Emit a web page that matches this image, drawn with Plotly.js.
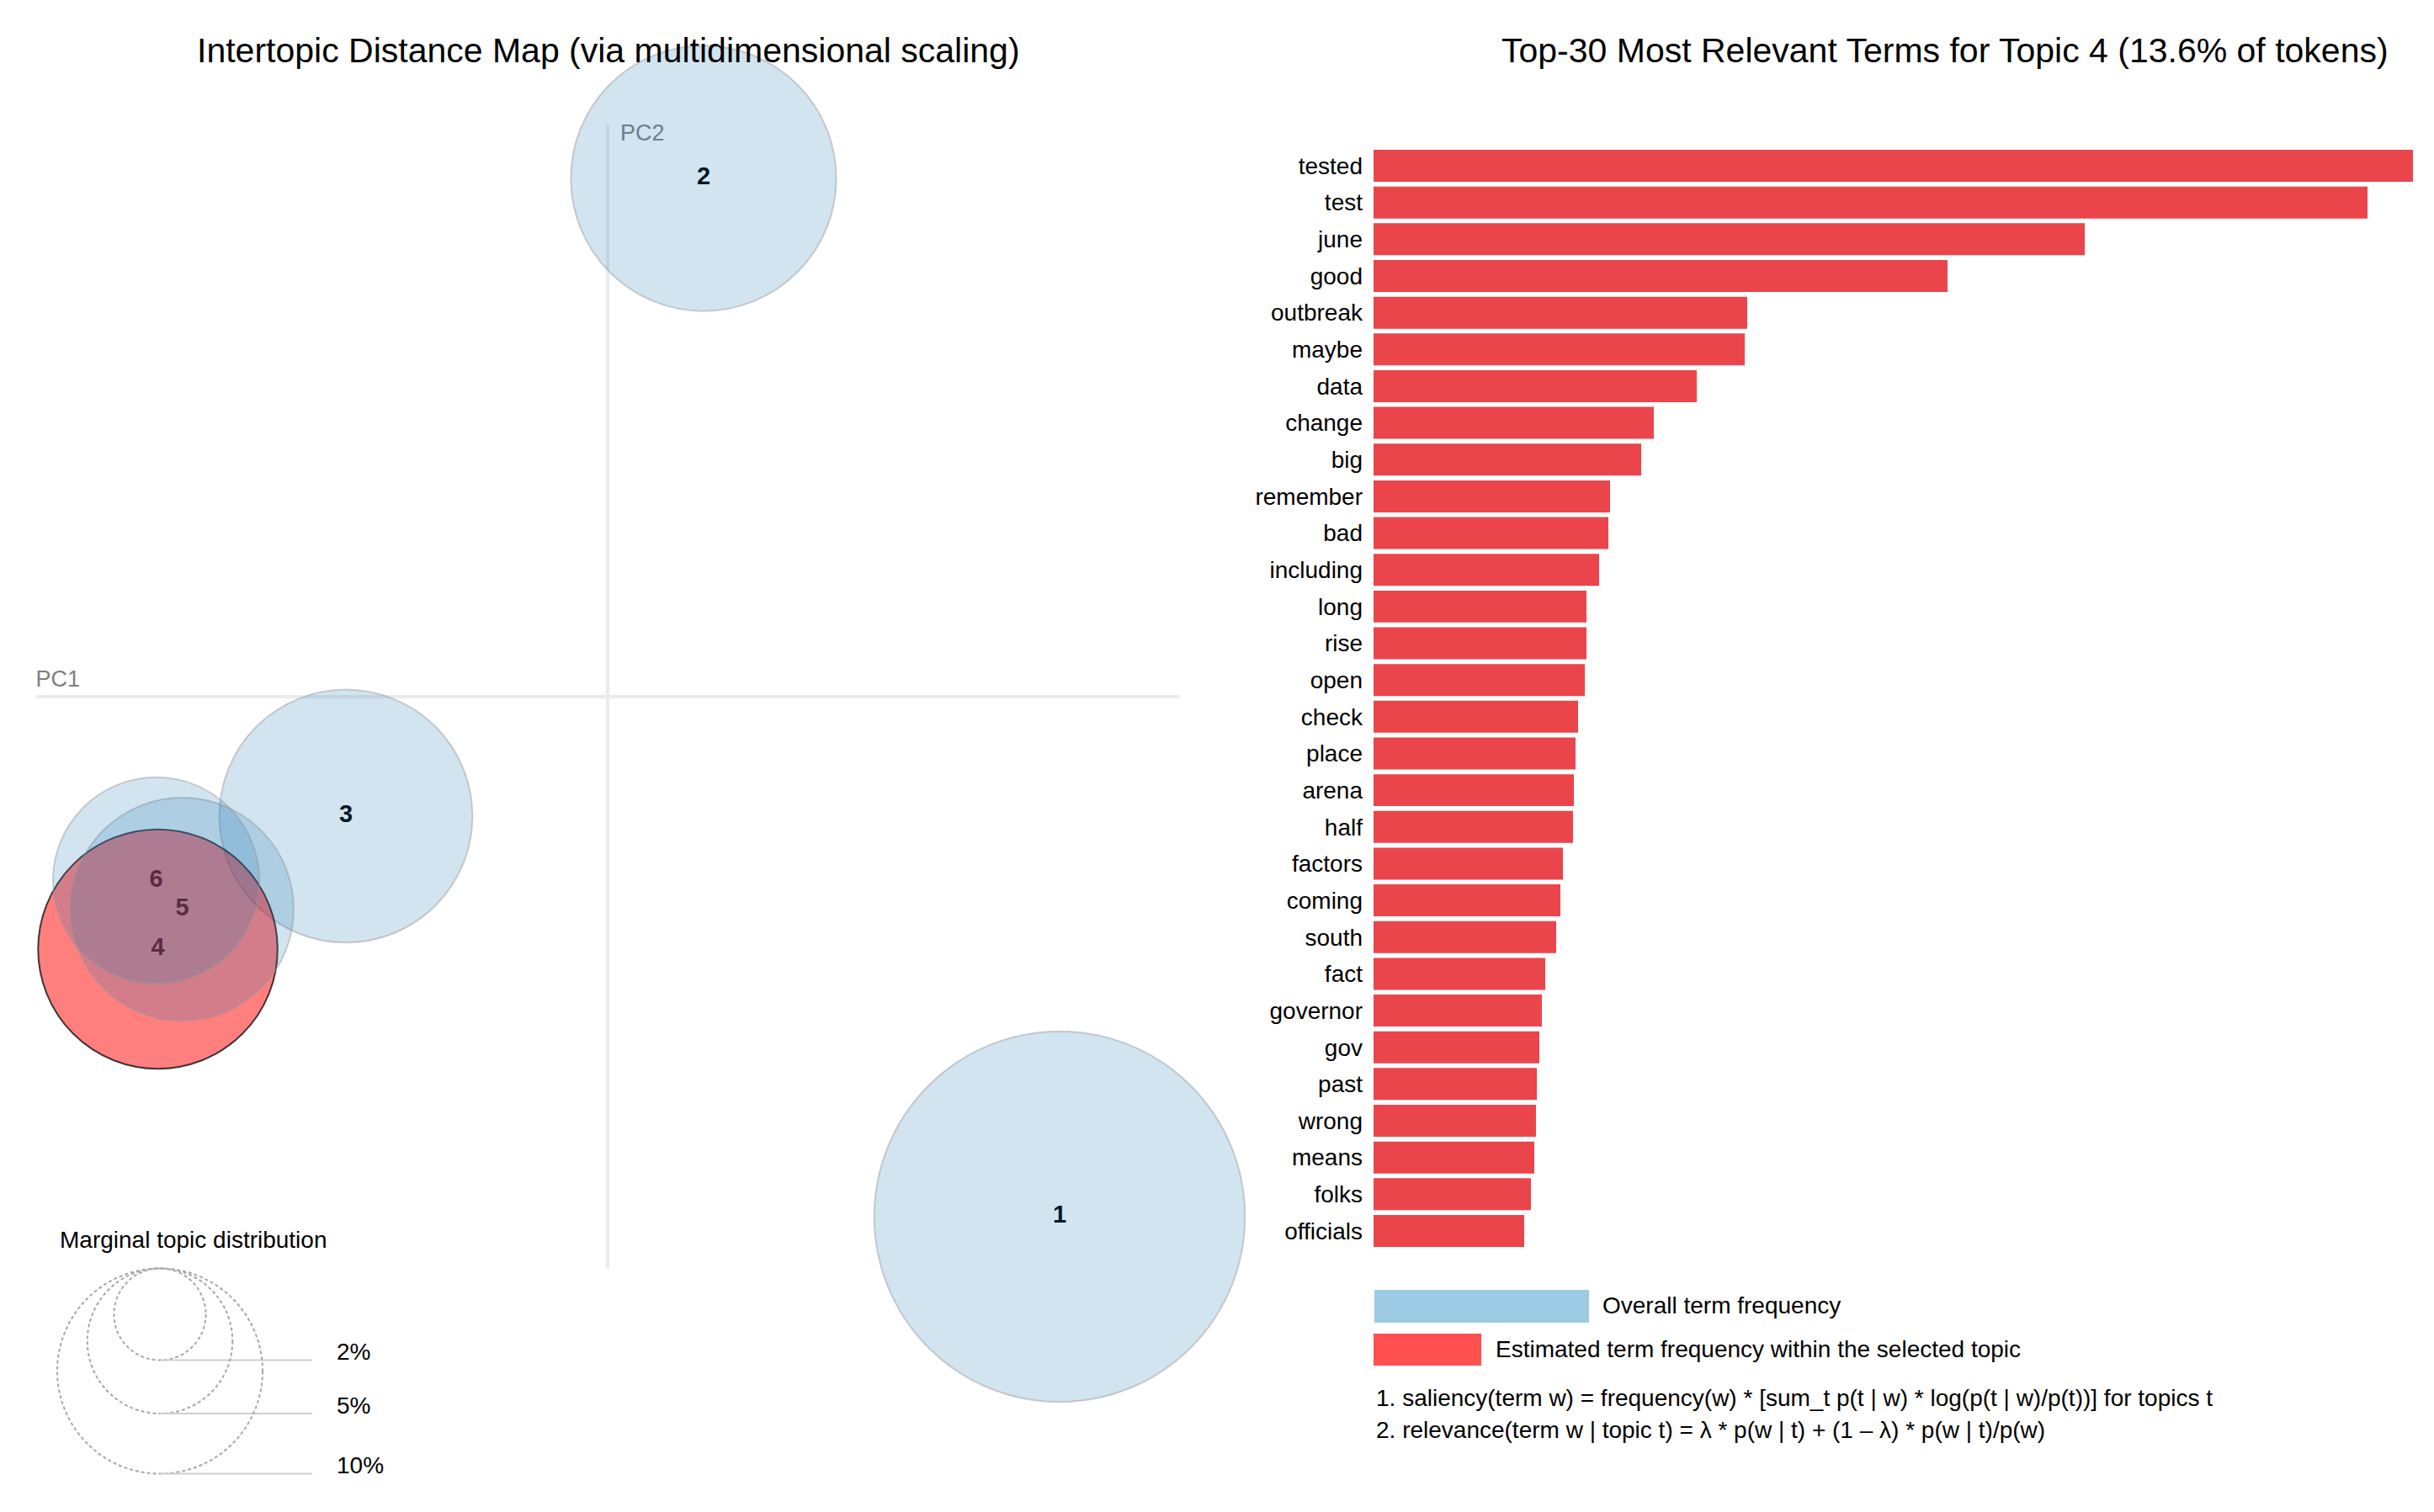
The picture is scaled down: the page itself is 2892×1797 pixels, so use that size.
<!DOCTYPE html>
<html>
<head>
<meta charset="utf-8">
<script src="https://cdn.plot.ly/plotly-3.0.1.min.js"></script>
<style>html,body{margin:0;padding:0;background:#fff;}#chart{width:2892px;height:1797px;}</style>
</head>
<body>
<div id="chart"></div>
<script>
// ---------------- data ----------------
const topicIds   = [1, 2, 3, 4, 5, 6];
const topicPC1   = [0.2766, 0.0587, -0.1602, -0.2753, -0.2604, -0.2763];
const topicPC2   = [-0.3183, 0.3173, -0.0731, -0.1545, -0.1301, -0.1125];
const topicShare = [32.6, 16.7, 15.2, 13.6, 11.8, 10.1];   // % of tokens
const selectedTopic = 4;

const terms = ["tested","test","june","good","outbreak","maybe","data","change","big","remember",
  "bad","including","long","rise","open","check","place","arena","half","factors",
  "coming","south","fact","governor","gov","past","wrong","means","folks","officials"];
const termFreqInTopic = [1235,1181,845,682,444,441,384,333,318,281,
  279,268,253,253,251,243,240,238,237,225,
  222,217,204,200,197,194,193,191,187,179];

const legendShares = [2, 5, 10];
const legendLabels = ["2%", "5%", "10%"];

// ---------------- layout helpers ----------------
const W = 2892, H = 1797;
const FONT = "Liberation Sans, Arial, Helvetica, sans-serif";
const U = 1941.4;          // px per MDS unit
const CX = 722, CY = 828;  // pixel position of the origin
const MAPW = 1600;         // width of the (invisible) map axes in px
const AX = 0.35;           // half-length of PC axis lines
const R10 = 122 / U;       // radius of a 10% circle (data units)
const rad = p => R10 * Math.sqrt(p / 10);
const px = x => x / W;
const py = y => 1 - y / H;

const shapes = [];
// PC axis lines
shapes.push({type:'line', xref:'x', yref:'y', x0:-AX, x1:AX, y0:0, y1:0,
  line:{color:'#ebebeb', width:4}, layer:'above'});
shapes.push({type:'line', xref:'x', yref:'y', x0:0, x1:0, y0:-AX, y1:AX,
  line:{color:'#ebebeb', width:4}, layer:'above'});
// topic circles
topicIds.forEach((id, i) => {
  const r = rad(topicShare[i]);
  const sel = id === selectedTopic;
  shapes.push({type:'circle', xref:'x', yref:'y',
    x0: topicPC1[i] - r, x1: topicPC1[i] + r, y0: topicPC2[i] - r, y1: topicPC2[i] + r,
    fillcolor: sel ? 'rgba(255,0,0,0.5)' : 'rgba(31,119,180,0.2)',
    line: {color: sel ? 'rgba(20,20,20,0.8)' : 'rgba(150,150,150,0.45)', width: 2},
    layer:'above'});
});
// marginal distribution legend
const LX = (190 - CX) / U, LT = -AX, LLX = (371 - CX) / U, LTX = (398 - CX) / U;
const annotations = [];
legendShares.forEach((p, i) => {
  const r = rad(p);
  shapes.push({type:'circle', xref:'x', yref:'y', x0: LX - r, x1: LX + r, y0: LT - 2*r, y1: LT,
    line:{color:'#a8a8a8', width:2, dash:'4px,3px'}, fillcolor:'rgba(0,0,0,0)', layer:'above'});
  shapes.push({type:'line', xref:'x', yref:'y', x0: LX, x1: LLX, y0: LT - 2*r, y1: LT - 2*r,
    line:{color:'#cfcfcf', width:2}, layer:'above'});
  annotations.push({xref:'x', yref:'y', x: LTX, y: LT - 2*r, text: legendLabels[i], showarrow:false,
    xanchor:'left', yanchor:'middle', yshift: 10, font:{family:FONT, size:28, color:'#000'}});
});
annotations.push({xref:'x', yref:'y', x:(69 - CX)/U, y:(CY - 1473)/U, text:'Marginal topic distribution',
  showarrow:false, xanchor:'left', yanchor:'middle', font:{family:FONT, size:28, color:'#000'}});

// titles
annotations.push({xref:'paper', yref:'paper', x: px(723), y: py(60), text:'Intertopic Distance Map (via multidimensional scaling)',
  showarrow:false, xanchor:'center', yanchor:'middle', font:{family:FONT, size:41, color:'#000'}});
annotations.push({xref:'paper', yref:'paper', x: px(2311), y: py(60),
  text:'Top-30 Most Relevant Terms for Topic ' + selectedTopic + ' (' + topicShare[topicIds.indexOf(selectedTopic)].toFixed(1) + '% of tokens)',
  showarrow:false, xanchor:'center', yanchor:'middle', font:{family:FONT, size:41, color:'#000'}});

// bar legend
shapes.push({type:'rect', xref:'paper', yref:'paper', x0:px(1633), x1:px(1888), y0:py(1572), y1:py(1533),
  fillcolor:'#9ccbe5', line:{width:0}});
shapes.push({type:'rect', xref:'paper', yref:'paper', x0:px(1632), x1:px(1760), y0:py(1623), y1:py(1585),
  fillcolor:'#ff5050', line:{width:0}});
annotations.push({xref:'paper', yref:'paper', x:px(1902), y:py(1551), text:'Overall term frequency',
  showarrow:false, xanchor:'left', yanchor:'middle', font:{family:FONT, size:28, color:'#000'}});
annotations.push({xref:'paper', yref:'paper', x:px(1775), y:py(1603), text:'Estimated term frequency within the selected topic',
  showarrow:false, xanchor:'left', yanchor:'middle', font:{family:FONT, size:28, color:'#000'}});
annotations.push({xref:'paper', yref:'paper', x:px(1633), y:py(1661),
  text:'1. saliency(term w) = frequency(w) * [sum_t p(t | w) * log(p(t | w)/p(t))] for topics t',
  showarrow:false, xanchor:'left', yanchor:'middle', font:{family:FONT, size:28, color:'#000'}});
annotations.push({xref:'paper', yref:'paper', x:px(1633), y:py(1699),
  text:'2. relevance(term w | topic t) = \u03BB * p(w | t) + (1 \u2013 \u03BB) * p(w | t)/p(w)',
  showarrow:false, xanchor:'left', yanchor:'middle', font:{family:FONT, size:28, color:'#000'}});

// ---------------- traces ----------------
const labelTrace = {type:'scatter', mode:'text', x: topicPC1, y: topicPC2, text: topicIds.map(String),
  textposition:'middle center', textfont:{family:FONT, size:29, color:'#000', weight:'bold'},
  xaxis:'x', yaxis:'y', hoverinfo:'skip', cliponaxis:false};
const pcTrace = {type:'scatter', mode:'text', x:[-AX, (737 - CX)/U], y:[(CY - 809)/U, (CY - 160)/U],
  text:['PC1','PC2'], textposition:'middle right', textfont:{family:FONT, size:27, color:'#808080'},
  xaxis:'x', yaxis:'y', hoverinfo:'skip', cliponaxis:false};
const barTrace = {type:'bar', orientation:'h', x: termFreqInTopic, y: terms,
  marker:{color:'#eb454c', line:{width:0}}, xaxis:'x2', yaxis:'y2', hoverinfo:'skip'};

const layout = {
  width: W, height: H, margin:{l:0, r:0, t:0, b:0, pad:0},
  paper_bgcolor:'#fff', plot_bgcolor:'rgba(0,0,0,0)', showlegend:false, hovermode:false,
  font:{family:FONT, color:'#000'},
  xaxis:{domain:[0, MAPW / W], range:[(0 - CX)/U, (MAPW - CX)/U], visible:false, fixedrange:true},
  yaxis:{domain:[0, 1], range:[(CY - H)/U, CY/U], visible:false, fixedrange:true},
  xaxis2:{domain:[px(1632), px(2867)], range:[0, Math.max(...termFreqInTopic)], visible:false,
    anchor:'y2', fixedrange:true},
  yaxis2:{domain:[py(1484.8), py(175.2)], type:'category', autorange:'reversed', anchor:'x2',
    showgrid:false, zeroline:false, showline:false, ticks:'', ticklabelstandoff:12,
    tickfont:{family:FONT, size:28, color:'#000'}, fixedrange:true},
  bargap: 0.13,
  shapes: shapes,
  annotations: annotations
};

Plotly.newPlot('chart', [barTrace, labelTrace, pcTrace], layout, {displayModeBar:false, staticPlot:true});
</script>
</body>
</html>
